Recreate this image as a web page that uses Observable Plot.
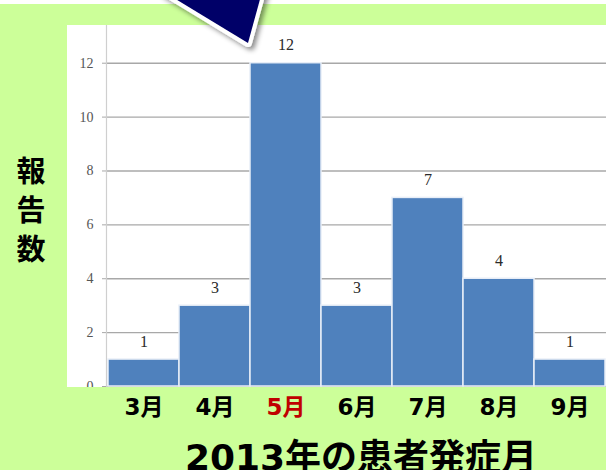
<!DOCTYPE html>
<html>
<head>
<meta charset="utf-8">
<script src="https://cdn.jsdelivr.net/npm/d3@7"></script>
<script src="https://cdn.jsdelivr.net/npm/@observablehq/plot@0.6"></script>
<style>
  html, body { margin: 0; padding: 0; background: #ccff99; }
  #wrap { position: relative; width: 606px; height: 470px; overflow: hidden; background: #ccff99; }
  #topstrip { position: absolute; left: 0; top: 0; width: 606px; height: 4px; background: #ffffff; }
  #panel { position: absolute; left: 67px; top: 25px; width: 539px; height: 362px; background: #ffffff; }
  #chart { position: absolute; left: 0; top: 0; }
  #months { position: absolute; left: 0; top: 387px; }
  #overlay { position: absolute; left: 0; top: 0; pointer-events: none; }
</style>
</head>
<body>
<div id="wrap">
  <div id="topstrip"></div>
  <div id="panel"></div>
  <div id="chart"></div>
  <div id="months"></div>
  <svg id="overlay" width="606" height="470" viewBox="0 0 606 470">
    <defs>
      <filter id="shadow" x="-30%" y="-30%" width="160%" height="160%">
        <feDropShadow dx="3" dy="3" stdDeviation="2.5" flood-color="#000" flood-opacity="0.45"/>
      </filter>
    </defs>
    <polygon points="164,-8 262,-8 248,43" fill="#000068" stroke="#ffffff" stroke-width="8"
      stroke-linejoin="round" paint-order="stroke" filter="url(#shadow)"/>
    <g id="ylabel" font-family="'Noto Sans CJK JP', sans-serif" font-weight="bold" font-size="29" fill="#000" text-anchor="middle"></g>
    <text id="title" x="361" y="470" text-anchor="middle" font-family="'DejaVu Sans', 'Noto Sans CJK JP', sans-serif" font-weight="bold" font-size="36" fill="#000"></text>
  </svg>
</div>
<script>
// ---- data ----
const months = ["3月", "4月", "5月", "6月", "7月", "8月", "9月"];
const counts = [1, 3, 12, 3, 7, 4, 1];
const yTicks = [0, 2, 4, 6, 8, 10, 12];
const highlightMonth = "5月";
const titleText = "2013年の患者発症月";
const yLabelText = "報告数";

const data = months.map((m, i) => ({month: m, count: counts[i]}));

const chart = Plot.plot({
  width: 606,
  height: 387,
  marginLeft: 106,
  marginRight: 0,
  marginTop: 25,
  marginBottom: 1,
  style: {background: "transparent", overflow: "hidden"},
  x: {type: "band", domain: months, padding: 0, axis: null, label: null},
  y: {domain: [0, 13.4], axis: null, label: null},
  marks: [
    Plot.gridY(yTicks, {stroke: "#a8a8a8", strokeOpacity: 1, strokeWidth: 1.4}),
    Plot.frame({anchor: "left", stroke: "#cfcfcf", strokeWidth: 1.2}),
    Plot.axisY({
      ticks: yTicks, tickSize: 4, tickPadding: 9, label: null,
      stroke: "#a8a8a8", fill: "#555", fontSize: 14,
      fontFamily: "'Liberation Serif', serif", tickFormat: d => String(d)
    }),
    Plot.barY(data, {x: "month", y: "count", fill: "#4f81bd", stroke: "#e8eef7", strokeWidth: 1.5}),
    Plot.text(data, {
      x: "month", y: "count", text: d => String(d.count), dy: -18,
      fill: "#2a2a2a", fontSize: 16, fontFamily: "'Liberation Serif', serif"
    })
  ]
});
document.getElementById("chart").appendChild(chart);

const monthAxis = Plot.plot({
  width: 606,
  height: 40,
  marginLeft: 106,
  marginRight: 0,
  marginTop: 0,
  marginBottom: 0,
  style: {background: "transparent", overflow: "visible"},
  x: {type: "band", domain: months, padding: 0, axis: null, label: null},
  marks: [
    Plot.text(months, {
      x: d => d, text: d => d, frameAnchor: "middle", dy: 0,
      fill: d => d === highlightMonth ? "#c00000" : "#000000",
      fontSize: 23, fontWeight: "bold",
      fontFamily: "'DejaVu Sans', 'Noto Sans CJK JP', sans-serif"
    })
  ]
});
document.getElementById("months").appendChild(monthAxis);

// decorative texts
document.getElementById("title").textContent = titleText;
const ylab = document.getElementById("ylabel");
const ys = [182, 221, 260];
Array.from(yLabelText).forEach((ch, i) => {
  const t = document.createElementNS("http://www.w3.org/2000/svg", "text");
  t.setAttribute("x", 31);
  t.setAttribute("y", ys[i]);
  t.textContent = ch;
  ylab.appendChild(t);
});
</script>
</body>
</html>
